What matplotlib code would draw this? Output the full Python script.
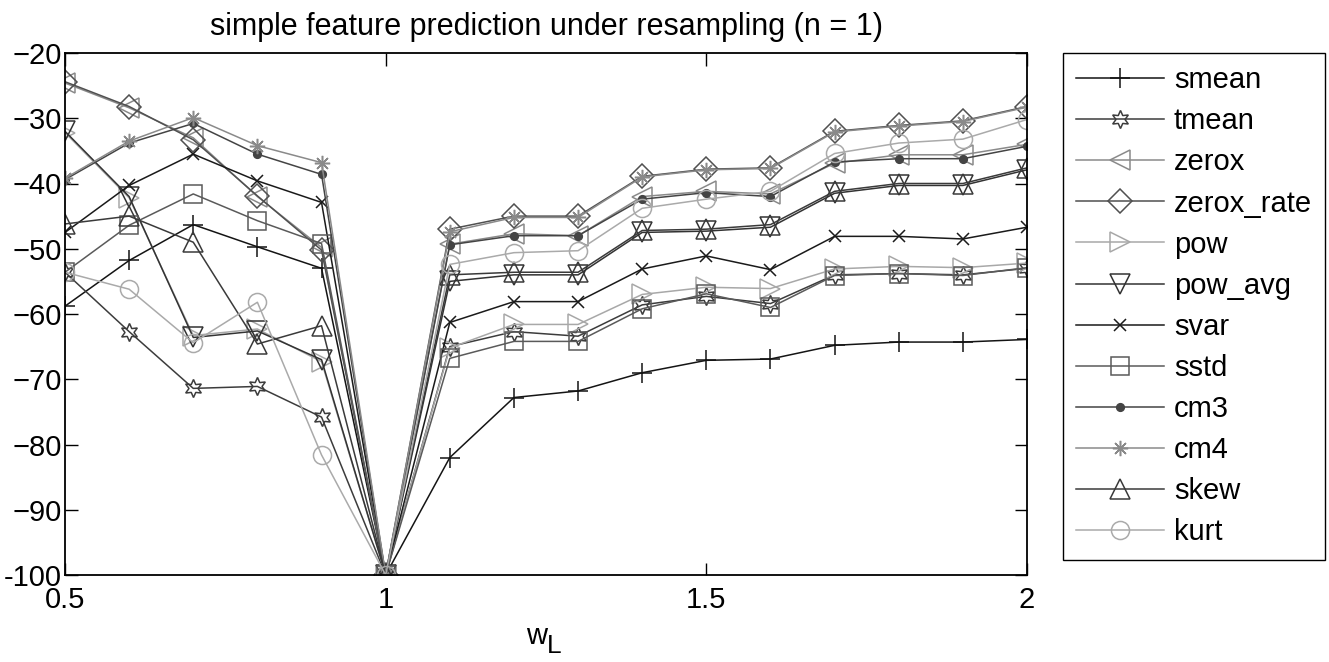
#!/usr/bin/env python3

import numpy as np
import matplotlib.pyplot as plt

plt.rcParams['font.family'] = ['Liberation Sans', 'DejaVu Sans']

# data
w_L = [0.5, 0.6, 0.7, 0.8, 0.9, 1.0, 1.1, 1.2, 1.3, 1.4, 1.5, 1.6, 1.7, 1.8, 1.9, 2.0]

smean = [-58.8, -51.8, -46.3, -49.7, -53.0, -100, -82.0, -72.8, -71.8, -69.0, -67.1, -66.9, -64.8, -64.3, -64.3, -63.9]
tmean = [-53.6, -62.7, -71.4, -71.1, -75.8, -100, -65.0, -62.7, -63.4, -58.6, -57.3, -58.4, -54.0, -53.8, -54.0, -53.0]
zerox = [-24.6, -28.4, -33.0, -42.0, -49.8, -100, -49.3, -47.7, -48.0, -42.0, -41.2, -41.6, -36.9, -35.6, -35.6, -34.0]
zerox_rate = [-24.4, -28.2, -33.3, -41.9, -50.2, -100, -47.0, -45.0, -45.0, -38.9, -37.8, -37.6, -32.0, -31.1, -30.4, -28.2]
pow_ = [-32.2, -42.2, -63.3, -62.3, -67.3, -100, -65.2, -61.6, -61.6, -57.0, -55.9, -56.1, -53.1, -52.7, -52.9, -52.2]
pow_avg = [-32.0, -42.0, -63.6, -62.6, -67.0, -100, -55.0, -54.0, -54.0, -47.5, -47.3, -46.7, -41.5, -40.3, -40.3, -37.9]
svar = [-47.5, -40.3, -35.5, -39.6, -42.9, -100, -61.3, -58.1, -58.1, -53.1, -51.1, -53.2, -48.1, -48.1, -48.5, -46.7]
sstd = [-53.6, -46.4, -41.6, -45.7, -49.2, -100, -66.8, -64.2, -64.2, -59.2, -56.9, -59.0, -54.1, -53.8, -54.1, -52.9]
cm3 = [-39.4, -33.8, -30.8, -35.5, -38.6, -100, -49.4, -48.0, -48.0, -42.4, -41.4, -42.0, -36.7, -36.2, -36.2, -34.3]
cm4 = [-39.2, -33.5, -29.9, -34.2, -36.8, -100, -47.4, -45.2, -45.2, -39.0, -37.9, -37.7, -32.1, -31.2, -30.5, -28.3]
skew = [-46.2, -45.0, -49.0, -64.6, -61.8, -100, -54.0, -53.6, -53.6, -47.2, -47.0, -46.3, -41.2, -40.0, -40.0, -37.6]
kurt = [-53.6, -56.2, -64.4, -58.2, -81.6, -100, -52.4, -50.6, -50.3, -43.8, -42.4, -41.2, -35.4, -33.8, -33.2, -30.2]

names = ['smean', 'tmean', 'zerox', 'zerox_rate', 'pow', 'pow_avg',
         'svar', 'sstd', 'cm3', 'cm4', 'skew', 'kurt']
series = [smean, tmean, zerox, zerox_rate, pow_, pow_avg,
          svar, sstd, cm3, cm4, skew, kurt]
colors = ['#141414', '#3c3c3c', '#8a8a8a', '#505050', '#a8a8a8', '#333333',
          '#1a1a1a', '#5a5a5a', '#444444', '#8a8a8a', '#3a3a3a', '#aaaaaa']
markers = ['+', (6, 1, 0), '<', 'D', '>', 'v', 'x', 's', '.', (8, 2, 0), '^', 'o']
msizes = [14, 13, 14, 12, 14, 14, 8, 13, 11, 11, 15, 13]

xticks = [0.5, 1, 1.5, 2]
xticklabels = ['0.5', '1', '1.5', '2']
yticks = np.arange(-100, -19, 10)
yticklabels = ['-100', '\u221290', '\u221280', '\u221270', '\u221260',
               '\u221250', '\u221240', '\u221230', '\u221220']


def main():
    fig = plt.figure(figsize=(13.29, 6.62), dpi=100)
    ax = fig.add_axes([65 / 1329, 1 - 575 / 662, (1027 - 65) / 1329, (575 - 53) / 662])

    for name, y, c, m, ms in zip(names, series, colors, markers, msizes):
        ax.plot(w_L, y, color=c, lw=1.1, marker=m, markersize=ms,
                markerfacecolor=c if m == '.' else 'none',
                markeredgecolor=c, markeredgewidth=1.1, label=name)

    ax.set_xlim(0.5, 2)
    ax.set_ylim(-100, -20)
    ax.set_xticks(xticks)
    ax.set_xticklabels(xticklabels)
    ax.set_yticks(yticks)
    ax.set_yticklabels(yticklabels)
    ax.tick_params(direction='in', top=True, right=True, labelsize=21,
                   length=9, width=1)
    ax.tick_params(axis='y', pad=2)
    ax.tick_params(axis='x', pad=8)
    for s in ax.spines.values():
        s.set_linewidth(1.3)

    ax.set_title('simple feature prediction under resampling (n = 1)', fontsize=22, pad=13)

    # w with a big subscript L, like the original
    ax.set_xlabel('w', fontsize=21)
    ax.xaxis.set_label_coords(0.49, -0.09)
    ax.xaxis.label.set_verticalalignment('top')
    ax.annotate('L', xy=(1, 0.5), xycoords=ax.xaxis.label, xytext=(0, -7),
                textcoords='offset points', ha='left', va='center', fontsize=19)

    leg = ax.legend(loc='upper left', bbox_to_anchor=(1063 / 1329, 1 - 53 / 662),
                    bbox_transform=fig.transFigure, fontsize=21, handlelength=3.0,
                    labelspacing=0.45, borderpad=0.45, handletextpad=0.35,
                    borderaxespad=0, fancybox=False, framealpha=1, edgecolor='black')
    leg.get_frame().set_linewidth(1.0)

    fig.savefig('out.png', dpi=100)


if __name__ == "__main__":
    main()
